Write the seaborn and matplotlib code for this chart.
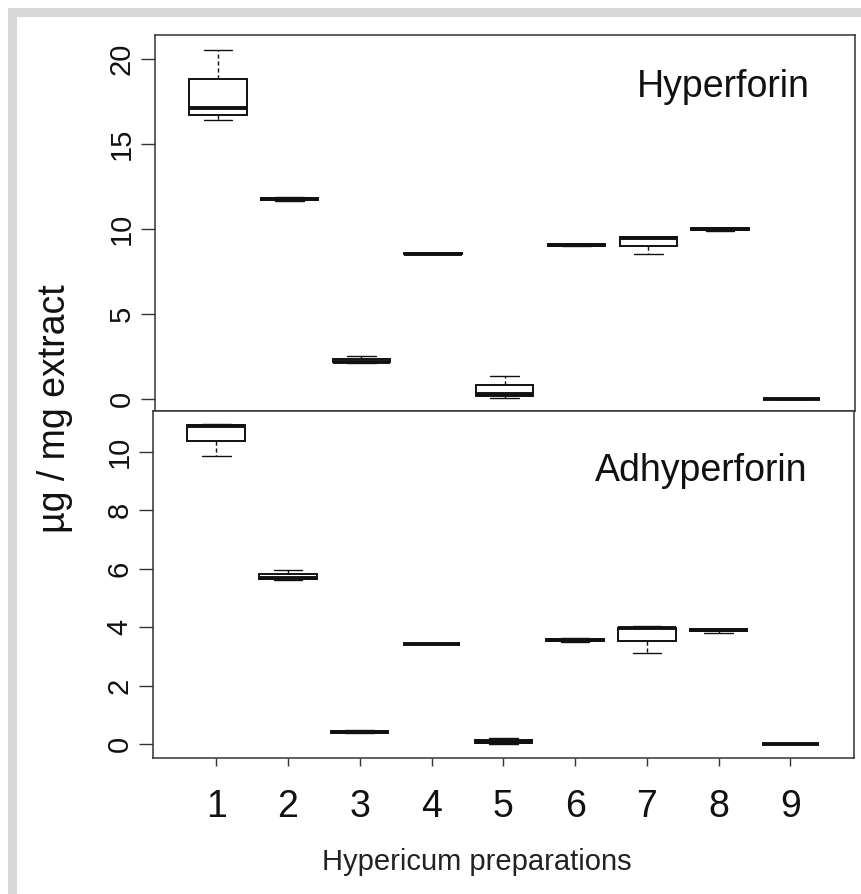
import numpy as np
import pandas as pd
import matplotlib
matplotlib.use("Agg")
import matplotlib.pyplot as plt
from matplotlib.patches import Rectangle
import seaborn as sns

# ---- data (min, q1, median, q3, max per preparation) ----
preparations = ["1", "2", "3", "4", "5", "6", "7", "8", "9"]
hyperforin_1 = [16.4, 16.7, 17.1, 18.8, 20.5]
hyperforin_2 = [11.65, 11.7, 11.75, 11.82, 11.9]
hyperforin_3 = [2.12, 2.15, 2.2, 2.35, 2.5]
hyperforin_4 = [8.55, 8.55, 8.55, 8.56, 8.56]
hyperforin_5 = [0.06, 0.2, 0.3, 0.8, 1.35]
hyperforin_6 = [8.98, 9.0, 9.05, 9.1, 9.12]
hyperforin_7 = [8.55, 9.0, 9.45, 9.5, 9.5]
hyperforin_8 = [9.88, 9.95, 10.0, 10.05, 10.08]
hyperforin_9 = [0.0, 0.0, 0.0, 0.01, 0.02]

adhyperforin_1 = [9.85, 10.37, 10.9, 10.92, 10.95]
adhyperforin_2 = [5.63, 5.65, 5.68, 5.82, 5.95]
adhyperforin_3 = [0.38, 0.38, 0.41, 0.43, 0.49]
adhyperforin_4 = [3.42, 3.42, 3.42, 3.43, 3.43]
adhyperforin_5 = [0.0, 0.02, 0.06, 0.15, 0.22]
adhyperforin_6 = [3.5, 3.52, 3.55, 3.58, 3.64]
adhyperforin_7 = [3.1, 3.53, 3.96, 3.98, 4.04]
adhyperforin_8 = [3.8, 3.86, 3.89, 3.92, 3.93]
adhyperforin_9 = [0.0, 0.0, 0.0, 0.005, 0.01]

hyperforin = [hyperforin_1, hyperforin_2, hyperforin_3, hyperforin_4, hyperforin_5,
              hyperforin_6, hyperforin_7, hyperforin_8, hyperforin_9]
adhyperforin = [adhyperforin_1, adhyperforin_2, adhyperforin_3, adhyperforin_4, adhyperforin_5,
                adhyperforin_6, adhyperforin_7, adhyperforin_8, adhyperforin_9]

top_ticks = [0, 5, 10, 15, 20]
bottom_ticks = [0, 2, 4, 6, 8, 10]

def to_frame(groups):
    rows = []
    for p, vals in zip(preparations, groups):
        for v in vals:
            rows.append({"prep": p, "value": v})
    return pd.DataFrame(rows)

df_top = to_frame(hyperforin)
df_bot = to_frame(adhyperforin)

sns.set_theme(style="white")
plt.rcParams["font.family"] = ["Liberation Sans", "DejaVu Sans"]

W, H = 862, 894
fig = plt.figure(figsize=(W / 100, H / 100), dpi=100)
fig.patch.set_facecolor("white")

# light gray frame bands
band = "#d7d7d7"
fig.patches.append(Rectangle((8 / W, 0), 9 / W, 1 - 8 / H, transform=fig.transFigure,
                             facecolor=band, edgecolor="none", zorder=0))
fig.patches.append(Rectangle((8 / W, 1 - 17 / H), 1, 9 / H, transform=fig.transFigure,
                             facecolor=band, edgecolor="none", zorder=0))

ax_top = fig.add_axes([155 / W, 1 - 411 / H, 700 / W, 376 / H])
ax_bot = fig.add_axes([153 / W, 1 - 758 / H, 701 / W, 347 / H])

box_kw = dict(x="prep", y="value", order=preparations, width=0.8, color="white",
              linecolor="#111111", linewidth=1.4, whis=(0, 100), fliersize=0,
              medianprops=dict(linewidth=2.8, color="#111111"),
              whiskerprops=dict(linestyle=(0, (3, 2)), linewidth=1.0),
              capprops=dict(linestyle="-", linewidth=1.0))

sns.boxplot(data=df_top, ax=ax_top, **box_kw)
sns.boxplot(data=df_bot, ax=ax_bot, **box_kw)

spine_col = "#333333"
for ax in (ax_top, ax_bot):
    ax.set_facecolor("white")
    for s in ax.spines.values():
        s.set_visible(True)
        s.set_color(spine_col)
        s.set_linewidth(1.1)
    ax.set_xlim(-0.88, 8.885)
    ax.set_xlabel("")
    ax.set_ylabel("")
    ax.tick_params(axis="y", left=True, length=10, width=1.0, color=spine_col,
                   labelsize=21, labelrotation=90, pad=4, labelcolor="#111111")

ax_top.set_ylim(-0.706, 21.41)
ax_top.set_yticks(top_ticks)
ax_top.set_yticklabels([str(t) for t in top_ticks], va="center")
ax_top.set_xticks([])

ax_bot.set_ylim(-0.48, 11.40)
ax_bot.set_yticks(bottom_ticks)
ax_bot.set_yticklabels([str(t) for t in bottom_ticks], va="center")
ax_bot.set_xticks(range(len(preparations)))
ax_bot.set_xticklabels(preparations)
ax_bot.tick_params(axis="x", bottom=True, length=6, width=1.0, color=spine_col,
                   labelsize=27, pad=16, labelcolor="#111111")
ax_bot.set_xlabel("")

fig.text(477 / W, 1 - 862 / H, "Hypericum preparations", ha="center", va="center",
         fontsize=21, color="#222222")

ax_top.text(0.936, 0.835, "Hyperforin", transform=ax_top.transAxes, ha="right",
            va="baseline", fontsize=27, color="#111111")
ax_bot.text(0.933, 0.798, "Adhyperforin", transform=ax_bot.transAxes, ha="right",
            va="baseline", fontsize=27, color="#111111")

fig.text(55 / W, 1 - 409 / H, "µg / mg extract", rotation=90, ha="center", va="center",
         fontsize=27, color="#111111")

fig.savefig("out.png", dpi=100)
